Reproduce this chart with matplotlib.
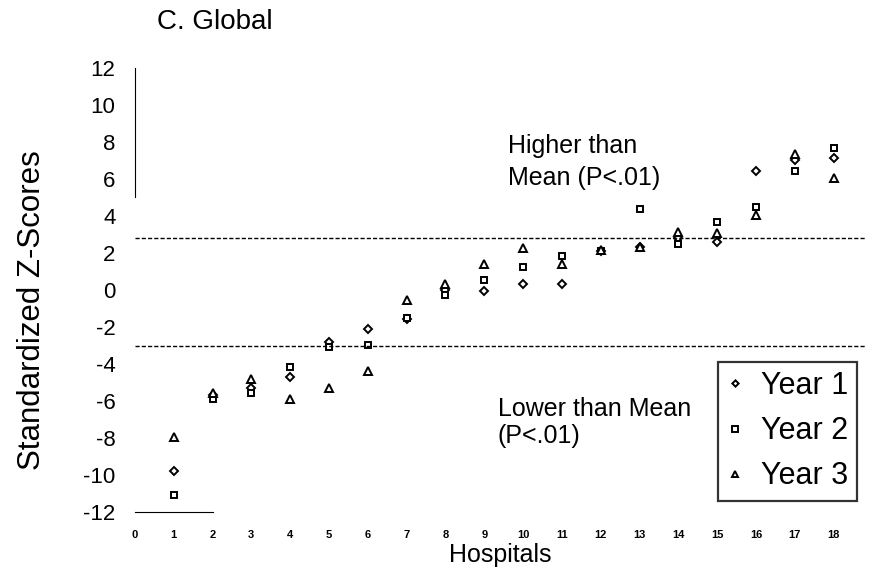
import matplotlib
matplotlib.use("Agg")
import matplotlib.pyplot as plt

plt.rcParams['font.family'] = ['Liberation Sans', 'DejaVu Sans']
plt.rcParams['axes.unicode_minus'] = False

hospitals = list(range(1, 19))
year1 = [-9.8, -5.7, -5.3, -4.7, -2.8, -2.1, -1.6, 0.0, -0.05, 0.32, 0.32, 2.1, 2.3, 2.8, 2.56, 6.43, 7.03, 7.15]
year2 = [-11.1, -5.9, -5.6, -4.15, -3.1, -3.0, -1.5, -0.3, 0.54, 1.23, 1.85, 2.1, 4.36, 2.5, 3.66, 4.45, 6.4, 7.66]
year3 = [-7.95, -5.6, -4.8, -5.9, -5.3, -4.4, -0.55, 0.3, 1.4, 2.27, 1.4, 2.15, 2.34, 3.1, 3.08, 4.05, 7.33, 6.02]
upper_cut = 2.8
lower_cut = -3.05
yticks = list(range(-12, 13, 2))
xticks = list(range(0, 19))

fig = plt.figure(figsize=(8.7, 5.75), dpi=100)
ax = fig.add_axes([0.155, 0.11, 0.839, 0.772])

ax.plot(hospitals, year1, linestyle='none', marker='D', markersize=4,
        markerfacecolor='white', markeredgecolor='black', markeredgewidth=1.4, label='Year 1')
ax.plot(hospitals, year2, linestyle='none', marker='s', markersize=5,
        markerfacecolor='white', markeredgecolor='black', markeredgewidth=1.4, label='Year 2')
ax.plot(hospitals, year3, linestyle='none', marker='^', markersize=5.5,
        markerfacecolor='white', markeredgecolor='black', markeredgewidth=1.4, label='Year 3')

ax.axhline(upper_cut, color='black', linestyle=(0, (3, 1.5)), linewidth=1)
ax.axhline(lower_cut, color='black', linestyle=(0, (3, 1.5)), linewidth=1)

ax.text(9.6, 8.4, "Higher than\nMean (P<.01)", fontsize=18, va='top', ha='left', linespacing=1.4)
ax.text(9.35, -5.8, "Lower than Mean\n(P<.01)", fontsize=18, va='top', ha='left', linespacing=1.15)

ax.set_xlim(0, 18.8)
ax.set_ylim(-12, 12)
ax.set_yticks(yticks)
ax.set_xticks(xticks)
ax.tick_params(axis='y', length=0, labelsize=16, pad=14)
ax.tick_params(axis='x', length=0, labelsize=8, pad=13)
for lbl in ax.get_xticklabels():
    lbl.set_fontweight('bold')

for s in ['top', 'right']:
    ax.spines[s].set_visible(False)
ax.spines['left'].set_bounds(5, 12)
ax.spines['bottom'].set_bounds(0, 2)

ax.set_xlabel("Hospitals", fontsize=18, labelpad=2)
ax.set_ylabel("Standardized Z-Scores", fontsize=22.5)
ax.yaxis.set_label_coords(-0.12, 0.455)
fig.text(0.18, 0.962, "C. Global", fontsize=20, ha='left', va='center')

leg = ax.legend(loc='lower right', bbox_to_anchor=(0.99, 0.025), fontsize=22, frameon=True,
                fancybox=False, edgecolor='black', handlelength=0.5, handletextpad=0.6,
                borderpad=0.3, labelspacing=0.5, markerscale=0.8, borderaxespad=0)
leg.get_frame().set_linewidth(1.6)

fig.savefig("out.png", dpi=100)
